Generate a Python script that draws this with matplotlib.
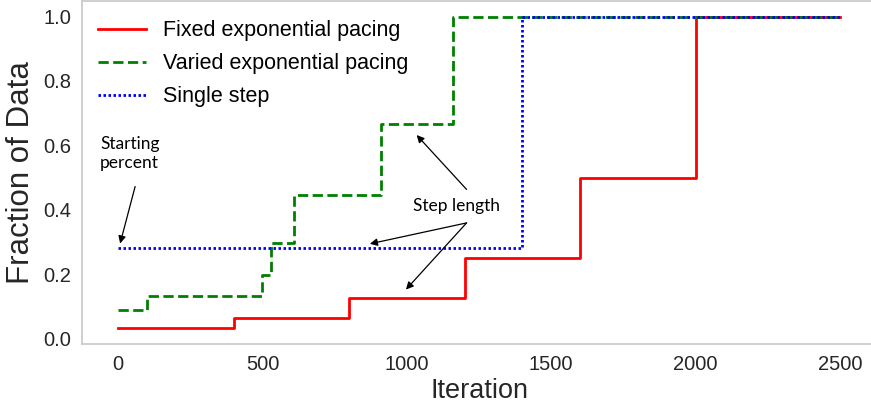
import matplotlib
matplotlib.use('Agg')
from matplotlib import pyplot as plt

# pacing functions: step breakpoints (iteration) and fraction of data
fixed_x = [0, 400, 800, 1200, 1600, 2000, 2500]
fixed_y = [0.03125, 0.0625, 0.125, 0.25, 0.5, 1.0, 1.0]

varied_x = [0, 100, 500, 530, 610, 910, 1160, 2500]
varied_y = [0.0878, 0.1317, 0.1975, 0.2963, 0.4444, 0.6667, 1.0, 1.0]

single_x = [0, 1400, 2500]
single_y = [0.28, 1.0, 1.0]

labels = ['Fixed exponential pacing', 'Varied exponential pacing', 'Single step']
x_ticks = [0, 500, 1000, 1500, 2000, 2500]
y_ticks = [0.0, 0.2, 0.4, 0.6, 0.8, 1.0]

plt.rcParams['font.family'] = ['Liberation Sans', 'DejaVu Sans']

fig = plt.figure(figsize=(8.71, 4.08), dpi=100)
ax = fig.add_axes([82 / 871, 64 / 408, 794 / 871, 343 / 408])

ax.step(fixed_x, fixed_y, where='post', color='r', lw=2, label=labels[0])
ax.step(varied_x, varied_y, where='post', color='g', lw=2, ls='--', label=labels[1])
ax.step(single_x, single_y, where='post', color='b', lw=2, ls=(0, (0.9, 0.9)), label=labels[2])

ax.set_xlim(-125, 2625)
ax.set_ylim(-0.0172, 1.0484)
ax.set_xticks(x_ticks)
ax.set_yticks(y_ticks)
ax.set_yticklabels(['%.1f' % t for t in y_ticks])
ax.tick_params(length=0, pad=8, labelsize=14.5, colors='#262626')
for s in ax.spines.values():
    s.set_color('#cccccc')
    s.set_linewidth(1.3)

ax.set_xlabel('Iteration', fontsize=19.5, color='#262626', labelpad=3)
ax.set_ylabel('Fraction of Data', fontsize=22.5, color='#262626', labelpad=5)

ax.legend(loc='upper left', bbox_to_anchor=(-0.004, 1.0), frameon=False, fontsize=15.5,
          handlelength=2.2, handletextpad=0.8, labelspacing=0.55)

# annotations
note_font = dict(family=['Lato', 'DejaVu Sans'], fontsize=12.5, color='black')
ax.text(-62, 0.63, 'Starting\npercent', va='top', ha='left', linespacing=1.25, **note_font)
ax.text(1021, 0.41, 'Step length', va='center', ha='left', **note_font)

arrow = dict(arrowstyle='-|>', color='black', lw=0.9, mutation_scale=11, shrinkA=0, shrinkB=0)
ax.annotate('', xy=(7, 0.295), xytext=(59, 0.472), arrowprops=arrow)
ax.annotate('', xy=(1034, 0.632), xytext=(1207, 0.463), arrowprops=arrow)
ax.annotate('', xy=(872, 0.294), xytext=(1207, 0.359), arrowprops=arrow)
ax.annotate('', xy=(997, 0.152), xytext=(1207, 0.359), arrowprops=arrow)

plt.savefig('out.png', dpi=100)
plt.close()
